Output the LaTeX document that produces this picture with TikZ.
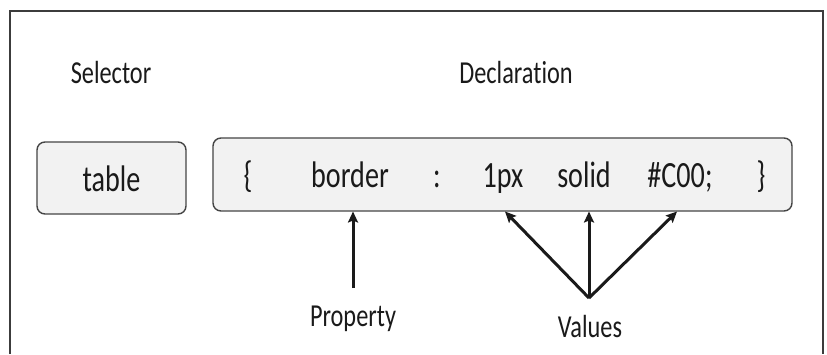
\documentclass[tikz,border=0pt]{standalone}
\usepackage{fontspec}
\setmainfont[FakeStretch=0.76, Ligatures={NoCommon}]{Carlito}
\usetikzlibrary{arrows.meta}
\definecolor{ink}{HTML}{1A1A1A}
\definecolor{framegray}{HTML}{3C3C3C}
\definecolor{boxfill}{HTML}{F2F2F2}
\definecolor{boxline}{HTML}{454545}
\tikzset{
  heading/.style={anchor=base, text=ink, inner sep=0pt, font=\fontsize{32}{36}\selectfont},
  codebox/.style={draw=boxline, fill=boxfill, line width=1.4pt, rounded corners=8pt, inner sep=0pt},
  token/.style={anchor=base, text=ink, inner sep=0pt, font=\fontsize{37}{40}\selectfont},
  pointer/.style={draw=ink, line width=3pt, -{Stealth[length=11pt, width=10pt, inset=2pt]}}
}
\begin{document}
\begin{tikzpicture}[x=1pt, y=-1pt]
\useasboundingbox (0,0) rectangle (827,354);
\fill[white] (0,0) rectangle (827,354);

% outer frame, open at the bottom
\draw[framegray, line width=2pt] (9.5,354) -- (9.5,11) -- (822.5,11) -- (822.5,354);

% headings
\node[heading] (selhead) at (111,83.5) {Selector};
\node[heading] (declhead) at (516,83) {Declaration};

% selector and declaration boxes
\node[codebox, minimum width=149pt, minimum height=72pt] (selbox) at (111.5,178) {};
\node[codebox, minimum width=579pt, minimum height=73pt] (declbox) at (502.5,174.5) {};

% selector text
\node[token] (tbl) at (111.5,191) {table};

% declaration tokens
\node[token] (lbrace) at (248,187.5) {\{};
\node[token] (prop) at (350,187.5) {border};
\node[token] (colon) at (437,187.5) {:};
\node[token] (v1) at (503,187.5) {1px};
\node[token] (v2) at (584,187.5) {solid};
\node[token] (v3) at (680,187.5) {\#C00;};
\node[token] (rbrace) at (761,187.5) {\}};

% captions below
\node[heading] (proplabel) at (353,326) {Property};
\node[heading] (vallabel) at (590,337) {Values};

% arrow anchor points on the declaration box
\coordinate (propstart) at (353,288);
\coordinate (propend) at (353,211.5);
\coordinate (vapex) at (589,298);
\coordinate (v1end) at (505,211.5);
\coordinate (v2end) at (589,211.5);
\coordinate (v3end) at (677,211.5);

% pointers
\draw[pointer] (propstart) -- (propend);
\draw[pointer] (vapex) -- (v1end);
\draw[pointer] (vapex) -- (v2end);
\draw[pointer] (vapex) -- (v3end);
\end{tikzpicture}
\end{document}
